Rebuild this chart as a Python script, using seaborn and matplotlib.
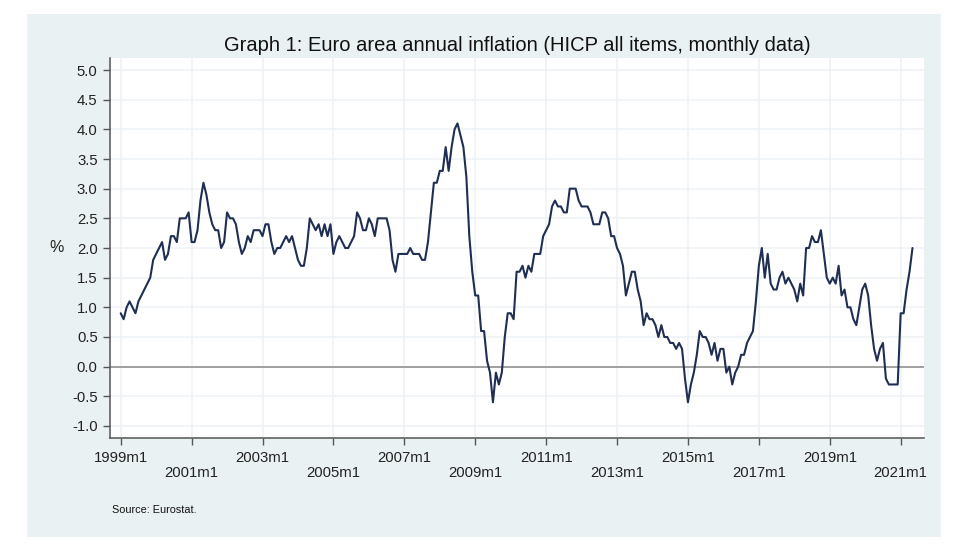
import numpy as np
import pandas as pd
import matplotlib.pyplot as plt
from matplotlib.patches import Rectangle
import seaborn as sns

# Inflation by year
y1999 = [0.9, 0.8, 1.0, 1.1, 1.0, 0.9, 1.1, 1.2, 1.3, 1.4, 1.5, 1.8]
y2000 = [1.9, 2.0, 2.1, 1.8, 1.9, 2.2, 2.2, 2.1, 2.5, 2.5, 2.5, 2.6]
y2001 = [2.1, 2.1, 2.3, 2.8, 3.1, 2.9, 2.6, 2.4, 2.3, 2.3, 2.0, 2.1]
y2002 = [2.6, 2.5, 2.5, 2.4, 2.1, 1.9, 2.0, 2.2, 2.1, 2.3, 2.3, 2.3]
y2003 = [2.2, 2.4, 2.4, 2.1, 1.9, 2.0, 2.0, 2.1, 2.2, 2.1, 2.2, 2.0]
y2004 = [1.8, 1.7, 1.7, 2.0, 2.5, 2.4, 2.3, 2.4, 2.2, 2.4, 2.2, 2.4]
y2005 = [1.9, 2.1, 2.2, 2.1, 2.0, 2.0, 2.1, 2.2, 2.6, 2.5, 2.3, 2.3]
y2006 = [2.5, 2.4, 2.2, 2.5, 2.5, 2.5, 2.5, 2.3, 1.8, 1.6, 1.9, 1.9]
y2007 = [1.9, 1.9, 2.0, 1.9, 1.9, 1.9, 1.8, 1.8, 2.1, 2.6, 3.1, 3.1]
y2008 = [3.3, 3.3, 3.7, 3.3, 3.7, 4.0, 4.1, 3.9, 3.7, 3.2, 2.2, 1.6]
y2009 = [1.2, 1.2, 0.6, 0.6, 0.1, -0.1, -0.6, -0.1, -0.3, -0.1, 0.5, 0.9]
y2010 = [0.9, 0.8, 1.6, 1.6, 1.7, 1.5, 1.7, 1.6, 1.9, 1.9, 1.9, 2.2]
y2011 = [2.3, 2.4, 2.7, 2.8, 2.7, 2.7, 2.6, 2.6, 3.0, 3.0, 3.0, 2.8]
y2012 = [2.7, 2.7, 2.7, 2.6, 2.4, 2.4, 2.4, 2.6, 2.6, 2.5, 2.2, 2.2]
y2013 = [2.0, 1.9, 1.7, 1.2, 1.4, 1.6, 1.6, 1.3, 1.1, 0.7, 0.9, 0.8]
y2014 = [0.8, 0.7, 0.5, 0.7, 0.5, 0.5, 0.4, 0.4, 0.3, 0.4, 0.3, -0.2]
y2015 = [-0.6, -0.3, -0.1, 0.2, 0.6, 0.5, 0.5, 0.4, 0.2, 0.4, 0.1, 0.3]
y2016 = [0.3, -0.1, 0.0, -0.3, -0.1, 0.0, 0.2, 0.2, 0.4, 0.5, 0.6, 1.1]
y2017 = [1.7, 2.0, 1.5, 1.9, 1.4, 1.3, 1.3, 1.5, 1.6, 1.4, 1.5, 1.4]
y2018 = [1.3, 1.1, 1.4, 1.2, 2.0, 2.0, 2.2, 2.1, 2.1, 2.3, 1.9, 1.5]
y2019 = [1.4, 1.5, 1.4, 1.7, 1.2, 1.3, 1.0, 1.0, 0.8, 0.7, 1.0, 1.3]
y2020 = [1.4, 1.2, 0.7, 0.3, 0.1, 0.3, 0.4, -0.2, -0.3, -0.3, -0.3, -0.3]
y2021 = [0.9, 0.9, 1.3, 1.6, 2.0]

inflation = (y1999 + y2000 + y2001 + y2002 + y2003 + y2004 + y2005 + y2006
             + y2007 + y2008 + y2009 + y2010 + y2011 + y2012 + y2013 + y2014
             + y2015 + y2016 + y2017 + y2018 + y2019 + y2020 + y2021)

y_ticks = [-1.0, -0.5, 0.0, 0.5, 1.0, 1.5, 2.0, 2.5, 3.0, 3.5, 4.0, 4.5, 5.0]
x_tick_years = list(range(1999, 2022, 2))

# Colori
panel_color = '#eaf1f3'
grid_color = '#edf3f5'
line_color = '#1f2e52'
axis_color = '#555555'

sns.set_style("white")
plt.rcParams['font.family'] = ['Liberation Sans', 'DejaVu Sans']

W, H = 962, 555
fig = plt.figure(figsize=(W / 100, H / 100), dpi=100)
fig.patch.set_facecolor('white')

# Panel behind the plot
fig.add_artist(Rectangle((27 / W, 1 - 537 / H), 914 / W, 523 / H,
                         transform=fig.transFigure, facecolor=panel_color,
                         edgecolor='none', zorder=-1))

ax = fig.add_axes([109.5 / W, 1 - 437.7 / H, (924 - 109.5) / W, (437.7 - 58) / H])
ax.set_facecolor('white')

df = pd.DataFrame({'month': np.arange(len(inflation)), 'inflation': inflation})

ax.axhline(0, color='#9a9a9a', linewidth=1.3, zorder=2)
sns.lineplot(data=df, x='month', y='inflation', color=line_color, linewidth=1.5, ax=ax, zorder=3)

# Same scale as the reference: 2.9545 px per month, 59.33 px per point
ax.set_xlim(-3.79, 271.9)
ax.set_ylim(-1.0 - 11.7 / 59.33, 5.0 + 12 / 59.33)

x_ticks = [(year - 1999) * 12 for year in x_tick_years]
ax.set_xticks(x_ticks)
ax.set_xticklabels([f'{year}m1' for year in x_tick_years], fontsize=10.7, color='#222222')
ax.set_yticks(y_ticks)
ax.set_yticklabels([f'{v:.1f}' for v in y_ticks], fontsize=10.7, color='#222222')

ax.tick_params(axis='both', length=5, width=1.0, color=axis_color, left=True, bottom=True)
ax.tick_params(axis='y', pad=3.5)

# Etichette sfalsate su due righe
for i, tick in enumerate(ax.xaxis.get_major_ticks()):
    tick.set_pad(4.5 if i % 2 == 0 else 15.5)

ax.grid(True, color=grid_color, linewidth=1.1)
ax.set_axisbelow(True)
for side in ['top', 'right']:
    ax.spines[side].set_visible(False)
for side in ['left', 'bottom']:
    ax.spines[side].set_visible(True)
    ax.spines[side].set_color(axis_color)
    ax.spines[side].set_linewidth(1.1)

ax.set_xlabel('')
ax.set_ylabel('')

fig.text(517 / W, 1 - 45.5 / H, 'Graph 1: Euro area annual inflation (HICP all items, monthly data)',
         ha='center', va='center', fontsize=14.5, color='#111111')
fig.text(57 / W, 1 - 248 / H, '%', ha='center', va='center', fontsize=11.5, color='#222222')
fig.text(112.5 / W, 1 - 510 / H, 'Source: Eurostat.', ha='left', va='center', fontsize=7.8, color='#111111')

plt.savefig('out.png', dpi=100)
plt.close()
